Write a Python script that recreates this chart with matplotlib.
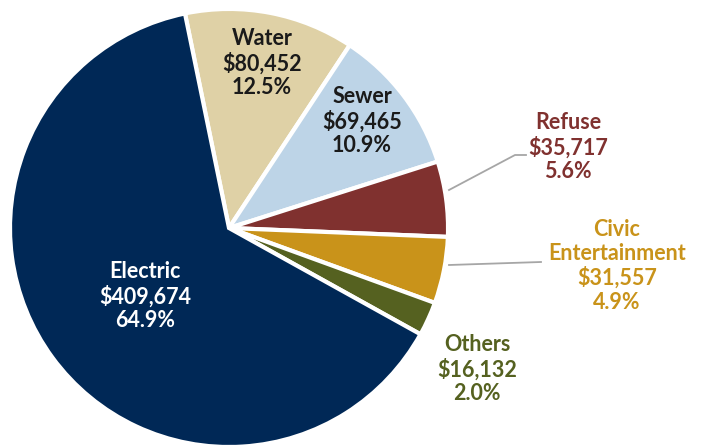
import matplotlib.pyplot as plt

# Données du graphique (ordre horaire à partir de Water)
categorias = ["Water", "Sewer", "Refuse", "Civic\nEntertainment", "Others", "Electric"]
valores = [80452, 69465, 35717, 31557, 16132, 409674]
percentuais = ["12.5%", "10.9%", "5.6%", "4.9%", "2.0%", "64.9%"]
cores = ["#DFD1A6", "#BDD4E7", "#80312F", "#C9931A", "#556120", "#002856"]
cores_texto = ["#1A1A1A", "#1A1A1A", "#80312F", "#C9931A", "#556120", "#FFFFFF"]
explode = [0.05, 0.05, 0.05, 0.05, 0.05, 0.0]

plt.rcParams['font.family'] = ['Lato', 'DejaVu Sans']

fig = plt.figure(figsize=(7.02, 4.47), dpi=100)
ax = fig.add_axes([0, 0, 1, 1])

# Centro e raio em pixels
cx, cy, raio = 229, 447 - 228, 219

ax.pie(valores, colors=cores, explode=explode, startangle=101.6, counterclock=False,
       center=(cx, cy), radius=raio, frame=True,
       wedgeprops=dict(edgecolor='white', linewidth=3))
ax.set_xlim(0, 702)
ax.set_ylim(0, 447)
ax.set_aspect('equal')
ax.axis('off')

# Posições dos rótulos (pixels da imagem)
pos_rotulos = [(262, 63), (362, 121), (568, 147), (617, 266), (477, 369), (145, 296)]

for nome, val, pct, cor, (x, y) in zip(categorias, valores, percentuais, cores_texto, pos_rotulos):
    texto = f"{nome}\n${val:,}\n{pct}"
    ax.text(x, 447 - y, texto, ha='center', va='center', color=cor,
            fontsize=15.5, fontweight='bold', linespacing=1.15)

# Linhas de chamada
ax.plot([449, 515, 526], [447 - 190, 447 - 155, 447 - 155], color='#A6A6A6', lw=1.3)
ax.plot([449, 541], [447 - 265, 447 - 262], color='#A6A6A6', lw=1.3)

plt.savefig("out.png", dpi=100)
plt.close(fig)
